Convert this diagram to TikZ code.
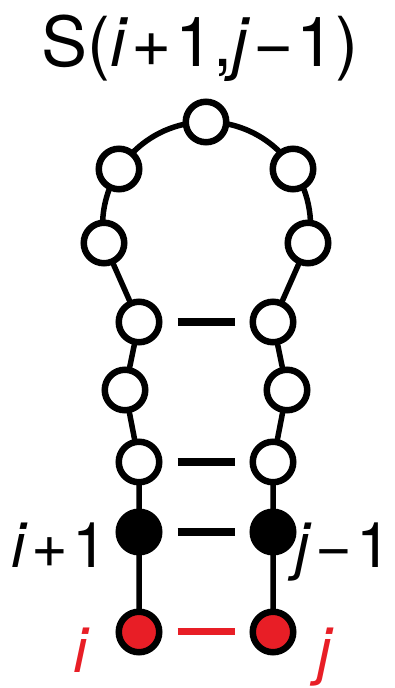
\documentclass[tikz,border=0pt]{standalone}
\usepackage{fontspec}
\setmainfont{TeX Gyre Heros}
\usetikzlibrary{backgrounds}
\definecolor{nred}{RGB}{232,30,38}
\tikzset{
  base/.style={circle,draw=black,line width=6.5pt,minimum size=40.5pt,inner sep=0pt},
  open/.style={base,fill=white},
  filled/.style={base,fill=black},
  rednode/.style={base,fill=nred},
  bb/.style={line width=5.5pt,black},
  pair/.style={line width=8pt,black,shorten <=15pt,shorten >=15pt},
  redpair/.style={line width=7pt,nred,shorten <=15pt,shorten >=15pt},
  lab/.style={inner sep=0pt,font=\fontsize{63}{70}\selectfont},
}
\begin{document}
\begin{tikzpicture}[x=1pt,y=1pt]
\useasboundingbox (0,0) rectangle (394,688);
% title
\node[inner sep=0pt,anchor=base,font=\fontsize{69}{80}\selectfont] (title) at (200,621)
  {S(\textit{i}\kern3pt+\kern3pt1,\textit{j}\kern3pt−\kern3pt1)};
% nodes
\node[open] (T)  at (206,566) {};
\node[open] (UL) at (119,519) {};
\node[open] (UR) at (293,519) {};
\node[open] (L2) at (104,445) {};
\node[open] (R2) at (308,445) {};
\node[open] (A1) at (139,366) {};
\node[open] (B1) at (273,366) {};
\node[open] (A2) at (125,298) {};
\node[open] (B2) at (287,298) {};
\node[open] (A3) at (139,226) {};
\node[open] (B3) at (273,226) {};
\node[filled] (A4) at (139,156) {};
\node[filled] (B4) at (273,156) {};
\node[rednode] (A5) at (139,56) {};
\node[rednode] (B5) at (273,56) {};
% backbone
\begin{scope}[on background layer]
\draw[bb] (L2.center) arc[start angle=189.5,end angle=-9.5,radius=104pt];
\draw[bb] (L2.center) -- (A1.center) -- (A2.center) -- (A3.center) -- (A4.center) -- (A5.center);
\draw[bb] (R2.center) -- (B1.center) -- (B2.center) -- (B3.center) -- (B4.center) -- (B5.center);
\end{scope}
% pairs
\draw[pair] (A1) -- (B1);
\draw[pair] (A3) -- (B3);
\draw[pair] (A4) -- (B4);
\draw[redpair] (A5) -- (B5);
% labels
\node[lab,anchor=base east] (li) at (108,120) {\textit{i}\kern4pt+\kern4pt1};
\node[lab,anchor=base west] (lj) at (295,120) {\textit{j}\kern4pt−\kern4pt1};
\node[lab,anchor=base,text=nred] (ri) at (82,15) {\textit{i}};
\node[lab,anchor=base,text=nred] (rj) at (326,15) {\textit{j}};
\end{tikzpicture}
\end{document}
